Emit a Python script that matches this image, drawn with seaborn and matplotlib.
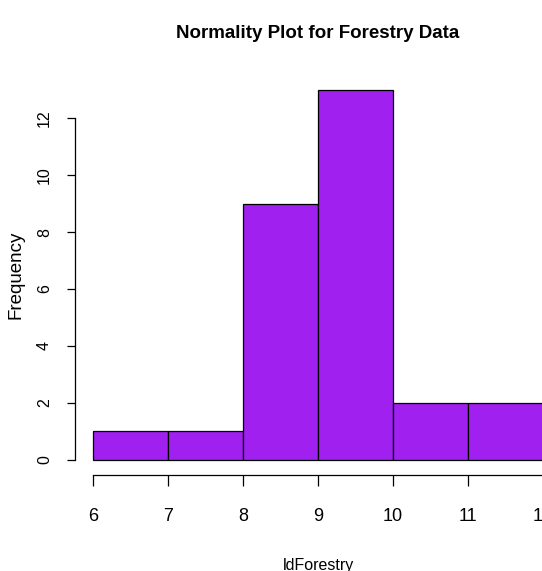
import matplotlib
matplotlib.use('Agg')
import pandas as pd
import seaborn as sns
import matplotlib.pyplot as plt

# Histogram of ldForestry
bin_edges = [6, 7, 8, 9, 10, 11, 12]
counts = [1, 1, 9, 13, 2, 2]
y_ticks = [0, 2, 4, 6, 8, 10, 12]
x_ticks = [6, 7, 8, 9, 10, 11, 12]

sns.set_style('white')
plt.rcParams['font.family'] = ['Liberation Sans', 'DejaVu Sans']
for key in ['text.color', 'axes.labelcolor', 'xtick.color', 'ytick.color']:
    plt.rcParams[key] = 'black'

df = pd.DataFrame({
    'ldForestry': [(a + b) / 2 for a, b in zip(bin_edges[:-1], bin_edges[1:])],
    'n': counts,
})

fig = plt.figure(figsize=(5.42, 5.71), dpi=100)
# R-like plot region; its right part runs off the picture like the original
ax = fig.add_axes([75 / 542, 1 - 474.8 / 571, 486 / 542, 400.1 / 571])

sns.histplot(data=df, x='ldForestry', weights='n', bins=bin_edges,
             color='#A020F0', alpha=1, edgecolor='black', linewidth=0.9,
             ax=ax)

ax.set_xlim(5.76, 12.24)
ax.set_ylim(-0.52, 13.52)

for side in ['top', 'right']:
    ax.spines[side].set_visible(False)
ax.spines['left'].set_bounds(0, 12)
ax.spines['bottom'].set_bounds(6, 12)
for side in ['left', 'bottom']:
    ax.spines[side].set_color('black')
    ax.spines[side].set_linewidth(0.9)

ax.set_yticks(y_ticks)
ax.set_yticklabels([str(v) for v in y_ticks], rotation=90, va='center',
                   fontsize=11.5)
ax.set_xticks(x_ticks)
ax.set_xticklabels([str(v) for v in x_ticks], fontsize=13)
ax.tick_params(axis='both', direction='out', width=0.9,
               color='black', left=True, bottom=True)
ax.tick_params(axis='x', length=8, pad=16)
ax.tick_params(axis='y', length=5.5, pad=11)

ax.set_ylabel('Frequency', fontsize=13.5)
ax.yaxis.set_label_coords(-0.103, 0.5)
ax.set_xlabel('ldForestry', fontsize=11.5, labelpad=24)
ax.set_title('Normality Plot for Forestry Data', fontsize=13.5,
             fontweight='bold', pad=26.5)

fig.savefig('out.png', dpi=100)
